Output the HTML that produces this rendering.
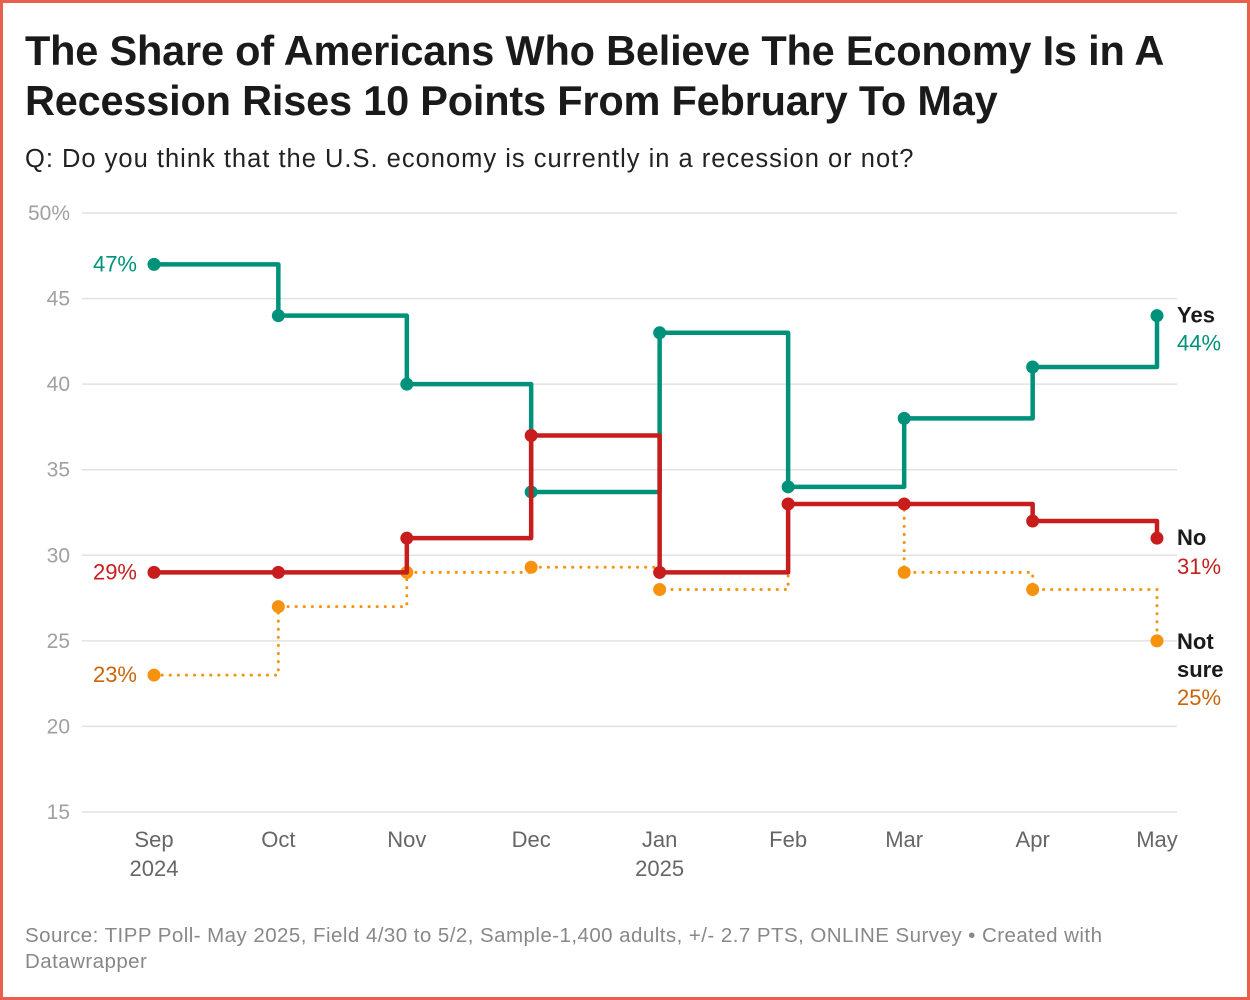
<!DOCTYPE html>
<html><head><meta charset="utf-8"><style>
body{margin:0;width:1250px;height:1000px;overflow:hidden;background:#fff;font-family:"Liberation Sans",sans-serif}
#frame{position:absolute;left:0;top:0;width:1244px;height:994px;border:3px solid #e8604c;background:#fff}
h1{position:absolute;left:25px;top:26px;margin:0;font-size:41.5px;line-height:50px;font-weight:bold;color:#1a1a1a;letter-spacing:-0.2px;white-space:nowrap}
#sub{position:absolute;left:25px;top:145px;font-size:25.5px;letter-spacing:1px;color:#222;white-space:nowrap}
#src{position:absolute;left:25px;top:923px;font-size:20.5px;letter-spacing:0.45px;line-height:26px;color:#888;white-space:nowrap}
svg{position:absolute;left:0;top:0}
</style></head><body>
<div id="frame"></div>
<h1>The Share of Americans Who Believe The Economy Is in A<br>Recession Rises 10 Points From February To May</h1>
<div id="sub">Q: Do you think that the U.S. economy is currently in a recession or not?</div>
<svg id="chart" width="1250" height="1000"></svg>
<div id="src">Source: TIPP Poll- May 2025, Field 4/30 to 5/2, Sample-1,400 adults, +/- 2.7 PTS, ONLINE Survey • Created with<br>Datawrapper</div>
<script>
const dates=["2024-09-01","2024-10-01","2024-11-01","2024-12-01","2025-01-01","2025-02-01","2025-03-01","2025-04-01","2025-05-01"];
const xLabels=["Sep","Oct","Nov","Dec","Jan","Feb","Mar","Apr","May"];
const xLabels2=["2024","","","","2025","","","",""];
const yesVals=[47,44,40,33.7,43,34,38,41,44];
const noVals=[29,29,31,37,29,33,33,32,31];
const notSureVals=[23,27,29,29.3,28,33,29,28,25];
const yTicks=[15,20,25,30,35,40,45,50];

const svg=document.getElementById('chart');
const NS='http://www.w3.org/2000/svg';
const t0=Date.parse(dates[0]),t1=Date.parse(dates[dates.length-1]);
const x=d=>154+(Date.parse(d)-t0)/(t1-t0)*(1157-154);
const y=v=>812-(v-15)/(50-15)*(812-213);
function mk(tag,attrs,txt){const e=document.createElementNS(NS,tag);for(const k in attrs)e.setAttribute(k,attrs[k]);if(txt!==undefined)e.textContent=txt;svg.appendChild(e);return e;}

yTicks.forEach(v=>{
  const g=mk('line',{x1:82,x2:1177,y1:y(v),y2:y(v),stroke:'#e2e2e2','stroke-width':1.5});
  
  
  const t=mk('text',{x:70,y:y(v)+7,'text-anchor':'end','font-size':21,fill:'#a0a0a0'},v===50?'50%':String(v));
  
  
});
dates.forEach((d,i)=>{
  const t=mk('text',{x:x(d),y:847,'text-anchor':'middle','font-size':22,fill:'#666'},xLabels[i]);
  
  
  if(xLabels2[i]){const t2=mk('text',{x:x(d),y:876,'text-anchor':'middle','font-size':22,fill:'#666'},xLabels2[i]);
  
  }
});
function series(vals,color,name,dotted){
  let p='M'+x(dates[0])+','+y(vals[0]);
  for(let i=1;i<vals.length;i++){p+=' H'+x(dates[i])+' V'+y(vals[i]);}
  const a={d:p,fill:'none',stroke:color,'stroke-width':dotted?3:4.5,'stroke-linejoin':'round'};
  if(dotted){a['stroke-dasharray']='0.1 8';a['stroke-linecap']='round';}
  const l=mk('path',a);
  
  
  vals.forEach((v,i)=>{const c=mk('circle',{cx:x(dates[i]),cy:y(v),r:6.5,fill:color});
    
    });
}
series(notSureVals,'#f7920f','not-sure',true);
series(yesVals,'#00917a','yes',false);
series(noVals,'#c71e1d','no',false);
function lab(tx,xx,yy,col,anchor,bold,name){const t=mk('text',{x:xx,y:yy,'text-anchor':anchor,'font-size':22,fill:col,'font-weight':bold?'bold':'normal'},tx);
  
  }
const L=dates.length-1,xr=x(dates[L])+20;
lab(yesVals[0]+'%',137,y(yesVals[0])+7,'#00917a','end',false,'yes-start-label');
lab(noVals[0]+'%',137,y(noVals[0])+7,'#c71e1d','end',false,'no-start-label');
lab(notSureVals[0]+'%',137,y(notSureVals[0])+7,'#c8650a','end',false,'not-sure-start-label');
lab('Yes',xr,y(yesVals[L])+7,'#1a1a1a','start',true,'yes-legend-label');
lab(yesVals[L]+'%',xr,y(yesVals[L])+35,'#00917a','start',false,'yes-end-label');
lab('No',xr,y(noVals[L])+7,'#1a1a1a','start',true,'no-legend-label');
lab(noVals[L]+'%',xr,y(noVals[L])+36,'#c71e1d','start',false,'no-end-label');
lab('Not',xr,y(notSureVals[L])+8,'#1a1a1a','start',true,'not-sure-legend-label');
lab('sure',xr,y(notSureVals[L])+36,'#1a1a1a','start',true,'not-sure-legend-label-2');
lab(notSureVals[L]+'%',xr,y(notSureVals[L])+64,'#c8650a','start',false,'not-sure-end-label');
</script>
</body></html>
